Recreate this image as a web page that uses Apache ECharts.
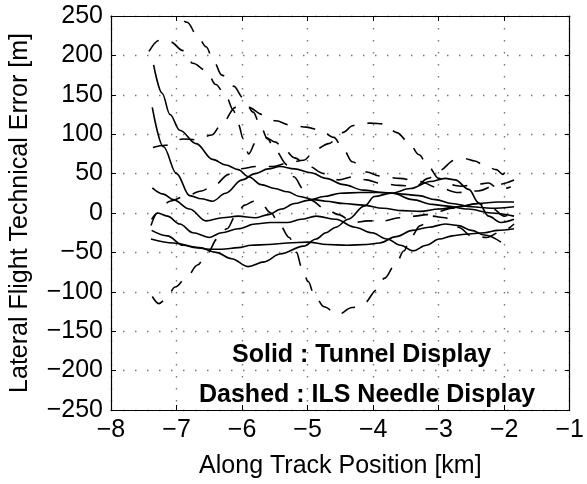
<!DOCTYPE html>
<html>
<head>
<meta charset="utf-8">
<script src="https://cdn.jsdelivr.net/npm/echarts@6/dist/echarts.min.js"></script>
<style>html,body{margin:0;padding:0;background:#fff}#c{width:587px;height:484px}</style>
</head>
<body>
<div id="c"></div>
<script>
// Axis settings
var xTicks = [-8, -7, -6, -5, -4, -3, -2, -1];
var yTicks = [-250, -200, -150, -100, -50, 0, 50, 100, 150, 200, 250];
var xTitle = 'Along Track Position [km]';
var yTitle = 'Lateral Flight Technical Error [m]';
var noteSolid = 'Solid : Tunnel Display';
var noteDashed = 'Dashed : ILS Needle Display';

// Solid : Tunnel Display runs  [position km, error m]
var tunnel1 = [[-7.35,188],[-7.22,152],[-7.1,125],[-6.95,105],[-6.7,88],[-6.45,68],[-6.25,61],[-6.06,55],[-5.9,46],[-5.71,36],[-5.5,31],[-5.31,27],[-5.12,21],[-4.91,17],[-4.72,15],[-4.45,12],[-4.15,10],[-3.85,6],[-3.55,3],[-3.28,2],[-3.0,5],[-2.7,8],[-2.4,12],[-2.1,14],[-1.85,14]];
var tunnel2 = [[-7.37,134],[-7.2,84],[-7.0,50],[-6.8,22],[-6.62,18],[-6.45,15],[-6.25,25],[-6.0,42],[-5.8,50],[-5.6,56],[-5.42,59],[-5.2,56],[-4.95,51],[-4.72,44],[-4.45,36],[-4.15,29],[-3.85,26],[-3.55,24],[-3.3,22],[-3.05,17],[-2.8,12],[-2.5,8],[-2.2,6],[-1.85,8]];
var tunnel3 = [[-7.37,32],[-7.2,24],[-7.05,17],[-6.8,5],[-6.55,-10],[-6.3,-6],[-6.06,-4],[-5.8,-6],[-5.6,-2],[-5.4,5],[-5.2,12],[-5.0,16],[-4.75,21],[-4.5,25],[-4.2,26],[-3.9,26],[-3.7,25],[-3.4,17],[-3.1,11],[-2.9,9],[-2.55,5],[-2.2,0],[-1.85,-4]];
var tunnel4 = [[-7.38,-8],[-7.29,0],[-7.14,-4],[-6.95,-14],[-6.75,-25],[-6.5,-31],[-6.31,-25],[-6.06,-20],[-5.8,-14],[-5.57,-12],[-5.31,-12],[-5.1,-8],[-4.87,-4],[-4.57,-8],[-4.28,-18],[-4.02,-25],[-3.79,-33],[-3.58,-41],[-3.39,-48],[-3.19,-41],[-2.99,-33],[-2.79,-29],[-2.6,-27],[-2.3,-25],[-2.1,-22],[-1.85,-20]];
var tunnel5 = [[-7.38,-22],[-7.14,-29],[-6.9,-41],[-6.7,-44],[-6.5,-46],[-6.31,-46],[-6.06,-44],[-5.86,-41],[-5.6,-40],[-5.3,-38],[-5.0,-37],[-4.7,-40],[-4.4,-41],[-4.1,-40],[-3.9,-38],[-3.65,-30],[-3.4,-22],[-3.15,-18],[-2.9,-14],[-2.7,-16],[-2.5,-22],[-2.3,-28],[-2.05,-37]];
var tunnel6 = [[-7.39,-33],[-7.05,-38],[-6.65,-44],[-6.4,-50],[-6.16,-58],[-5.91,-68],[-5.66,-62],[-5.42,-52],[-5.06,-42],[-4.87,-33],[-4.72,-25],[-4.57,-18],[-4.38,-8],[-4.13,9],[-3.98,21],[-3.73,25],[-3.43,31],[-3.13,40],[-2.9,44],[-2.75,42],[-2.54,30],[-2.39,13],[-2.24,-4],[-2.05,-12],[-1.85,-8]];

// Dashed : ILS Needle Display runs
var ils1 = [[-7.42,205],[-7.27,219],[-7.09,217],[-6.9,206],[-6.75,190],[-6.55,181],[-6.4,163],[-6.25,149],[-6.13,130],[-6.06,113],[-5.98,94],[-5.9,75],[-5.79,90],[-5.65,96],[-5.49,90],[-5.36,81],[-5.2,70],[-5.0,60],[-4.75,50],[-4.53,42],[-4.3,46],[-4.1,42],[-3.9,38],[-3.6,35],[-3.35,34],[-3.16,44],[-2.99,54],[-2.76,67],[-2.6,69],[-2.45,66],[-2.31,61],[-2.12,55],[-2.02,49],[-1.92,64]];
var ils2 = [[-7.15,270],[-6.99,250],[-6.84,242],[-6.68,225],[-6.55,211],[-6.43,192],[-6.31,175],[-6.13,161],[-5.98,146],[-5.83,128],[-5.73,113],[-5.61,94],[-5.5,80],[-5.31,61],[-5.21,46],[-5.06,30],[-4.97,17],[-4.72,5],[-4.53,-2],[-4.3,-12],[-4.08,-10],[-3.83,-10],[-3.61,-6],[-3.36,-4],[-3.19,-2],[-3.0,2],[-2.8,6],[-2.6,10],[-2.4,12],[-2.17,5],[-2.0,-4],[-1.85,2]];
var ils3 = [[-7.39,-16],[-7.29,0],[-7.1,15],[-6.87,21],[-6.62,28],[-6.43,35],[-6.2,49],[-6.06,56],[-5.76,59],[-5.54,59],[-5.31,63],[-5.06,67],[-4.87,81],[-4.68,88],[-4.47,102],[-4.3,111],[-4.05,114],[-3.83,113],[-3.64,102],[-3.46,90],[-3.3,74],[-3.16,59],[-3.0,44],[-2.84,36],[-2.65,34],[-2.45,36],[-2.24,38],[-2.08,30],[-1.9,33]];
var ils4 = [[-7.36,83],[-7.17,86],[-6.9,94],[-6.7,93],[-6.46,99],[-6.31,113],[-6.1,134],[-5.9,134],[-5.69,125],[-5.49,117],[-5.24,111],[-5.02,109],[-4.8,105],[-4.6,96],[-4.45,80],[-4.32,65],[-4.1,52],[-3.9,47],[-3.6,44],[-3.3,40],[-3.0,32],[-2.7,26],[-2.4,28],[-2.1,36],[-1.85,42]];
var ils5 = [[-7.37,-106],[-7.27,-115],[-7.17,-110],[-7.02,-94],[-6.84,-81],[-6.68,-66],[-6.53,-51],[-6.38,-33],[-6.23,-20],[-6.1,-4],[-5.96,10],[-5.82,15],[-5.71,12],[-5.56,0],[-5.42,-16],[-5.28,-31],[-5.17,-50],[-5.09,-69],[-4.99,-87],[-4.9,-104],[-4.75,-119],[-4.54,-129],[-4.32,-120],[-4.13,-114],[-3.95,-98],[-3.83,-83],[-3.65,-64],[-3.53,-48],[-3.43,-31],[-3.28,-16],[-3.1,-4],[-2.9,-6],[-2.7,-18],[-2.5,-29],[-2.27,-31],[-2.05,-24],[-1.85,-14]];

var solidRuns = [tunnel1, tunnel2, tunnel3, tunnel4, tunnel5, tunnel6];
var dashedRuns = [ils1, ils2, ils3, ils4, ils5];

var FONT = '"Liberation Sans", Arial, Helvetica, sans-serif';
function minus(v){ return String(v).replace('-', '\u2212'); }

var series = [];
solidRuns.forEach(function(d, i){
  series.push({type:'line', name:'Tunnel '+(i+1), data:d, showSymbol:false, smooth:0.35, smoothMonotone:'x',
    clip:true, silent:true, lineStyle:{color:'#000', width:1.6, type:'solid'}});
});
dashedRuns.forEach(function(d, i){
  series.push({type:'line', name:'ILS '+(i+1), data:d, showSymbol:false, smooth:0.35, smoothMonotone:'x',
    clip:true, silent:true, lineStyle:{color:'#000', width:1.6, type:[15,13]}});
});

var gridDots = {show:true, lineStyle:{color:'#777', width:1.4, type:[1.5,10.5]}};
var axLine = {show:true, onZero:false, lineStyle:{color:'#000', width:1.2}};
var axTick = {show:true, inside:true, length:5, lineStyle:{color:'#000', width:1}};

var chart = echarts.init(document.getElementById('c'), null, {renderer:'canvas'});
chart.setOption({
  animation:false,
  backgroundColor:'#fff',
  grid:{left:109, right:6, top:16, bottom:69, containLabel:false},
  xAxis:[
    {type:'value', min:xTicks[0], max:xTicks[xTicks.length-1], interval:1, position:'bottom',
     axisLine:axLine, axisTick:axTick, splitLine:gridDots,
     axisLabel:{color:'#000', fontSize:25, fontFamily:FONT, margin:8, formatter:minus},
     name:xTitle, nameLocation:'middle', nameGap:44,
     nameTextStyle:{color:'#000', fontSize:25, fontFamily:FONT}},
    {type:'value', min:xTicks[0], max:xTicks[xTicks.length-1], interval:1, position:'top',
     axisLine:axLine, axisTick:axTick, splitLine:{show:false}, axisLabel:{show:false}}
  ],
  yAxis:[
    {type:'value', min:yTicks[0], max:yTicks[yTicks.length-1], interval:50, position:'left',
     axisLine:axLine, axisTick:axTick, splitLine:gridDots,
     axisLabel:{color:'#000', fontSize:25, fontFamily:FONT, margin:8, formatter:minus},
     name:yTitle, nameLocation:'middle', nameGap:78,
     nameTextStyle:{color:'#000', fontSize:25, fontFamily:FONT}},
    {type:'value', min:yTicks[0], max:yTicks[yTicks.length-1], interval:50, position:'right',
     axisLine:axLine, axisTick:axTick, splitLine:{show:false}, axisLabel:{show:false}}
  ],
  graphic:[
    {type:'text', left:232, top:343, z:100, style:{text:noteSolid, fill:'#000', font:'bold 25px '+FONT}},
    {type:'text', left:199, top:383, z:100, style:{text:noteDashed, fill:'#000', font:'bold 25px '+FONT}}
  ],
  series:series
});
</script>
</body>
</html>
